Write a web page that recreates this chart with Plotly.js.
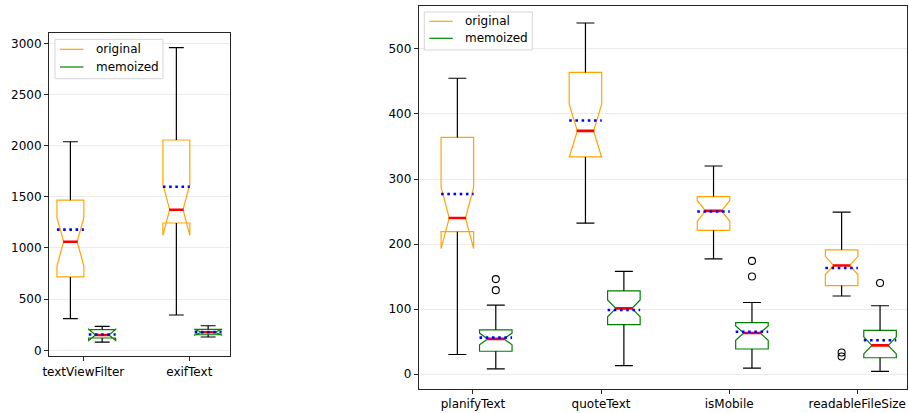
<!DOCTYPE html>
<html>
<head>
<meta charset="utf-8">
<script src="https://cdn.plot.ly/plotly-3.0.1.min.js"></script>
<style>html,body{margin:0;padding:0;background:#fff;}#chart{width:909px;height:413px;}</style>
</head>
<body>
<div id="chart"></div>
<script>
// ---------- data ----------
const leftCategories = ['textViewFilter', 'exifText'];
const leftYTicks = [0, 500, 1000, 1500, 2000, 2500, 3000];

const leftOrigLow    = [309, 345];
const leftOrigQ1     = [717, 1244];
const leftOrigMedian = [1061, 1374];
const leftOrigQ3     = [1467, 2055];
const leftOrigHigh   = [2038, 2957];
const leftOrigMean   = [1179, 1599];
const leftOrigNotch  = [236, 250];

const leftMemoLow    = [80, 130];
const leftMemoQ1     = [120, 152];
const leftMemoMedian = [150, 176];
const leftMemoQ3     = [203, 205];
const leftMemoHigh   = [233, 240];
const leftMemoMean   = [155, 178];
const leftMemoNotch  = [55, 28];

const rightCategories = ['planifyText', 'quoteText', 'isMobile', 'readableFileSize'];
const rightYTicks = [0, 100, 200, 300, 400, 500];

const rightOrigLow    = [30, 232, 177, 120];
const rightOrigQ1     = [219, 334, 221, 136];
const rightOrigMedian = [240, 374, 251, 167];
const rightOrigQ3     = [364, 464, 273, 191];
const rightOrigHigh   = [455, 540, 320, 249];
const rightOrigMean   = [277, 390, 250, 163];
const rightOrigNotch  = [47, 41, 16, 14];
const rightOrigOutlierCat = [3, 3];
const rightOrigOutlierVal = [33, 27];

const rightMemoLow    = [8, 13, 9, 4];
const rightMemoQ1     = [35, 76, 38.5, 25];
const rightMemoMedian = [54, 101, 63, 44];
const rightMemoQ3     = [68, 128, 79, 67];
const rightMemoHigh   = [106, 158, 110, 105];
const rightMemoMean   = [56, 98.5, 65, 52];
const rightMemoNotch  = [9, 13, 11, 13];
const rightMemoOutlierCat = [0, 0, 2, 2, 3];
const rightMemoOutlierVal = [146, 129, 174, 150, 140];

const legendLabels = ['original', 'memoized'];

// ---------- styling ----------
const ORIG = '#ffa500', MEMO = '#008000';
const OFF_ORIG = -0.122, OFF_MEMO = 0.178, BOXW = 0.254, CAP = BOXW * 0.276;
const LW = 1.2;

function series(xa, ya, n, offset, color, low, q1, med, q3, high, mean, notch, oCat, oVal) {
  const pos = Array.from({length: n}, (_, i) => i + 1 + offset);
  const box = {
    type: 'box', xaxis: xa, yaxis: ya, x: pos, q1: q1, median: med, q3: q3,
    lowerfence: q1, upperfence: q3, whiskerwidth: 0, showwhiskers: false,
    notched: true, notchspan: notch, notchwidth: 0.25, width: BOXW,
    boxpoints: false, fillcolor: 'rgba(0,0,0,0)', showlegend: false, hoverinfo: 'skip',
    line: {color: color, width: LW}
  };
  const wx = [], wy = [], mx = [], my = [], ax = [], ay = [];
  pos.forEach((p, i) => {
    wx.push(p, p, null, p, p, null, p - CAP, p + CAP, null, p - CAP, p + CAP, null);
    wy.push(low[i], q1[i], null, q3[i], high[i], null, low[i], low[i], null, high[i], high[i], null);
    mx.push(p - BOXW * 0.27, p + BOXW * 0.27, null); my.push(med[i], med[i], null);
    ax.push(p - BOXW * 0.5, p + BOXW * 0.5, null); ay.push(mean[i], mean[i], null);
  });
  const whiskTr = {type: 'scatter', mode: 'lines', xaxis: xa, yaxis: ya, x: wx, y: wy,
    line: {color: '#000000', width: LW}, showlegend: false, hoverinfo: 'skip'};
  const medTr = {type: 'scatter', mode: 'lines', xaxis: xa, yaxis: ya, x: mx, y: my,
    line: {color: '#ff0000', width: 2.6}, showlegend: false, hoverinfo: 'skip'};
  const meanTr = {type: 'scatter', mode: 'lines', xaxis: xa, yaxis: ya, x: ax, y: ay,
    line: {color: '#0000ff', width: 2.6, dash: '2.6px,3.6px'}, showlegend: false, hoverinfo: 'skip'};
  const out = [box, whiskTr, medTr, meanTr];
  if (oCat && oCat.length) {
    out.push({type: 'scatter', mode: 'markers', xaxis: xa, yaxis: ya,
      x: oCat.map(c => c + 1 + offset), y: oVal,
      marker: {symbol: 'circle-open', size: 7, color: '#000', line: {width: 1.1, color: '#000'}},
      showlegend: false, hoverinfo: 'skip'});
  }
  return out;
}

const data = [].concat(
  series('x', 'y', leftCategories.length, OFF_ORIG, ORIG, leftOrigLow, leftOrigQ1, leftOrigMedian, leftOrigQ3, leftOrigHigh, leftOrigMean, leftOrigNotch),
  series('x', 'y', leftCategories.length, OFF_MEMO, MEMO, leftMemoLow, leftMemoQ1, leftMemoMedian, leftMemoQ3, leftMemoHigh, leftMemoMean, leftMemoNotch),
  series('x2', 'y2', rightCategories.length, OFF_ORIG, ORIG, rightOrigLow, rightOrigQ1, rightOrigMedian, rightOrigQ3, rightOrigHigh, rightOrigMean, rightOrigNotch, rightOrigOutlierCat, rightOrigOutlierVal),
  series('x2', 'y2', rightCategories.length, OFF_MEMO, MEMO, rightMemoLow, rightMemoQ1, rightMemoMedian, rightMemoQ3, rightMemoHigh, rightMemoMean, rightMemoNotch, rightMemoOutlierCat, rightMemoOutlierVal)
);

// ---------- legends (drawn as shapes + text, pixel placement) ----------
const W = 909, H = 413;
const px = v => v / W, py = v => 1 - v / H;
const shapes = [], annotations = [];
function legendBox(left, top, bottom, rowY) {
  shapes.push({type: 'rect', xref: 'paper', yref: 'paper', layer: 'above',
    x0: px(left), x1: px(left + 108), y0: py(bottom), y1: py(top),
    line: {color: '#d6d6d6', width: 1}, fillcolor: 'rgba(255,255,255,0.85)'});
  [ORIG, MEMO].forEach((c, i) => {
    shapes.push({type: 'line', xref: 'paper', yref: 'paper', layer: 'above',
      x0: px(left + 5), x1: px(left + 28.5), y0: py(rowY[i]), y1: py(rowY[i]),
      line: {color: c, width: 1.2}});
    annotations.push({xref: 'paper', yref: 'paper', x: px(left + 38.5), y: py(rowY[i]),
      xanchor: 'left', yanchor: 'middle', showarrow: false, text: legendLabels[i],
      font: {family: 'DejaVu Sans', size: 12, color: '#000'}});
  });
}
legendBox(55, 39.3, 78.7, [49.3, 67]);
legendBox(424.3, 12, 50, [21.3, 38.3]);

const axisCommon = {
  showline: true, mirror: true, linecolor: '#262626', linewidth: 1,
  ticks: 'outside', ticklen: 4, tickwidth: 1, tickcolor: '#262626',
  zeroline: false, automargin: false, fixedrange: true,
  tickfont: {family: 'DejaVu Sans', size: 12, color: '#000'}
};

const layout = {
  width: W, height: H,
  margin: {l: 0, r: 0, t: 0, b: 0},
  paper_bgcolor: '#ffffff', plot_bgcolor: '#ffffff',
  font: {family: 'DejaVu Sans', size: 12, color: '#000'},
  boxmode: 'overlay',
  showlegend: false,
  xaxis: Object.assign({}, axisCommon, {domain: [0.0539, 0.2530], range: [0.676, 2.384],
    tickvals: leftCategories.map((c, i) => i + 1), ticktext: leftCategories, showgrid: false, anchor: 'y'}),
  yaxis: Object.assign({}, axisCommon, {domain: [0.1373, 0.9194], range: [-58.6, 3098],
    tickvals: leftYTicks, showgrid: true, gridcolor: '#ebebeb', gridwidth: 1, anchor: 'x'}),
  xaxis2: Object.assign({}, axisCommon, {domain: [0.4606, 0.9983], range: [0.576, 4.392],
    tickvals: rightCategories.map((c, i) => i + 1), ticktext: rightCategories, showgrid: false, anchor: 'y2'}),
  yaxis2: Object.assign({}, axisCommon, {domain: [0.0588, 0.9862], range: [-22.6, 566.6],
    tickvals: rightYTicks, showgrid: true, gridcolor: '#ebebeb', gridwidth: 1, anchor: 'x2'}),
  shapes: shapes,
  annotations: annotations
};

Plotly.newPlot('chart', data, layout, {displayModeBar: false, staticPlot: true});
</script>
</body>
</html>
